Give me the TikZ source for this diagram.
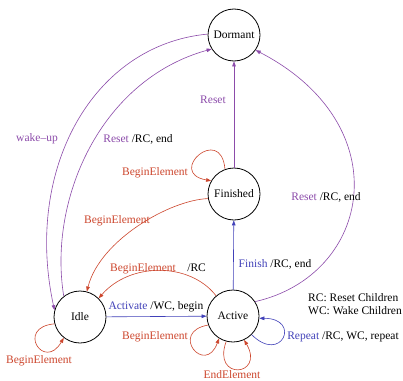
\documentclass[tikz,border=0pt]{standalone}
\usepackage{fontspec}
\setmainfont{Liberation Serif}
\usetikzlibrary{arrows.meta}

\definecolor{purp}{RGB}{140,75,170}
\definecolor{redd}{RGB}{205,70,45}
\definecolor{bluu}{RGB}{65,65,185}

\tikzset{
  state/.style={draw,circle,line width=0.8pt,minimum size=52pt,inner sep=0pt},
  lab/.style={inner sep=0pt},
  tr/.style={line width=0.6pt,-{Triangle[length=5pt,width=3.6pt]}},
}

\begin{document}
\begin{tikzpicture}[x=1pt,y=-1pt,font=\fontsize{11.5}{13}\selectfont]
  \useasboundingbox[fill=white] (0,0) rectangle (403,380);

  \node[state] (dormant)  at (234,35)  {Dormant};
  \node[state] (finished) at (234,194) {Finished};
  \node[state] (idle)     at (80,317)  {Idle};
  \node[state] (active)   at (233,316) {Active};

  % purple: back to dormant / wake-up
  \draw[tr,purp] (dormant.178) .. controls (92,45) and (24,170) .. (idle.165);
  \draw[tr,purp] (idle.128) .. controls (48,200) and (100,80) .. (dormant.212);
  \draw[tr,purp] (finished) -- (dormant);
  \draw[tr,purp] (active.33) .. controls (372,275) and (400,125) .. (dormant.-35);

  % blue
  \draw[tr,bluu] (idle) -- (active);
  \draw[tr,bluu] (active) -- (finished);
  \draw[tr,bluu] (active.315) to[out=-45,in=0,looseness=6] (active.-5);

  % red
  \draw[tr,redd] (finished.190) .. controls (170,200) and (100,240) .. (idle.75);
  \draw[tr,redd] (active.130) .. controls (190,262) and (130,262) .. (idle.45);
  \draw[tr,redd] (finished.110) to[out=95,in=170,looseness=6.5] (finished.150);
  \draw[tr,redd] (idle.195) to[out=185,in=240,looseness=6] (idle.232);
  \draw[tr,redd] (active.200) to[out=190,in=250,looseness=6] (active.238);
  \draw[tr,redd] (active.255) to[out=250,in=300,looseness=6] (active.295);

  % labels
  \node[lab] (lwake)   at (37,139)  {\color{purp}wake--up};
  \node[lab] (lreset1) at (138,139) {\color{purp}Reset \color{black}/RC, end};
  \node[lab] (lreset2) at (213,100) {\color{purp}Reset};
  \node[lab] (lreset3) at (326,197) {\color{purp}Reset \color{black}/RC, end};
  \node[lab] (lbeg1)   at (155,173) {\color{redd}BeginElement};
  \node[lab] (lbeg2)   at (117,221) {\color{redd}BeginElement};
  \node[lab] (lbeg3)   at (158,269) {\color{redd}BeginElement\quad\color{black}/RC};
  \node[lab] (lact)    at (156,307) {\color{bluu}Activate \color{black}/WC, begin};
  \node[lab] (lfin)    at (275,264) {\color{bluu}Finish \color{black}/RC, end};
  \node[lab] (lbeg4)   at (155,337) {\color{redd}BeginElement};
  \node[lab] (lbeg5)   at (39,361)  {\color{redd}BeginElement};
  \node[lab] (lend)    at (232,375) {\color{redd}EndElement};
  \node[lab] (lrep)    at (343,337) {\color{bluu}Repeat \color{black}/RC, WC, repeat};
  \node[lab,align=left,anchor=west] (lkey) at (308,304) {RC: Reset Children\\WC: Wake Children};
\end{tikzpicture}
\end{document}
